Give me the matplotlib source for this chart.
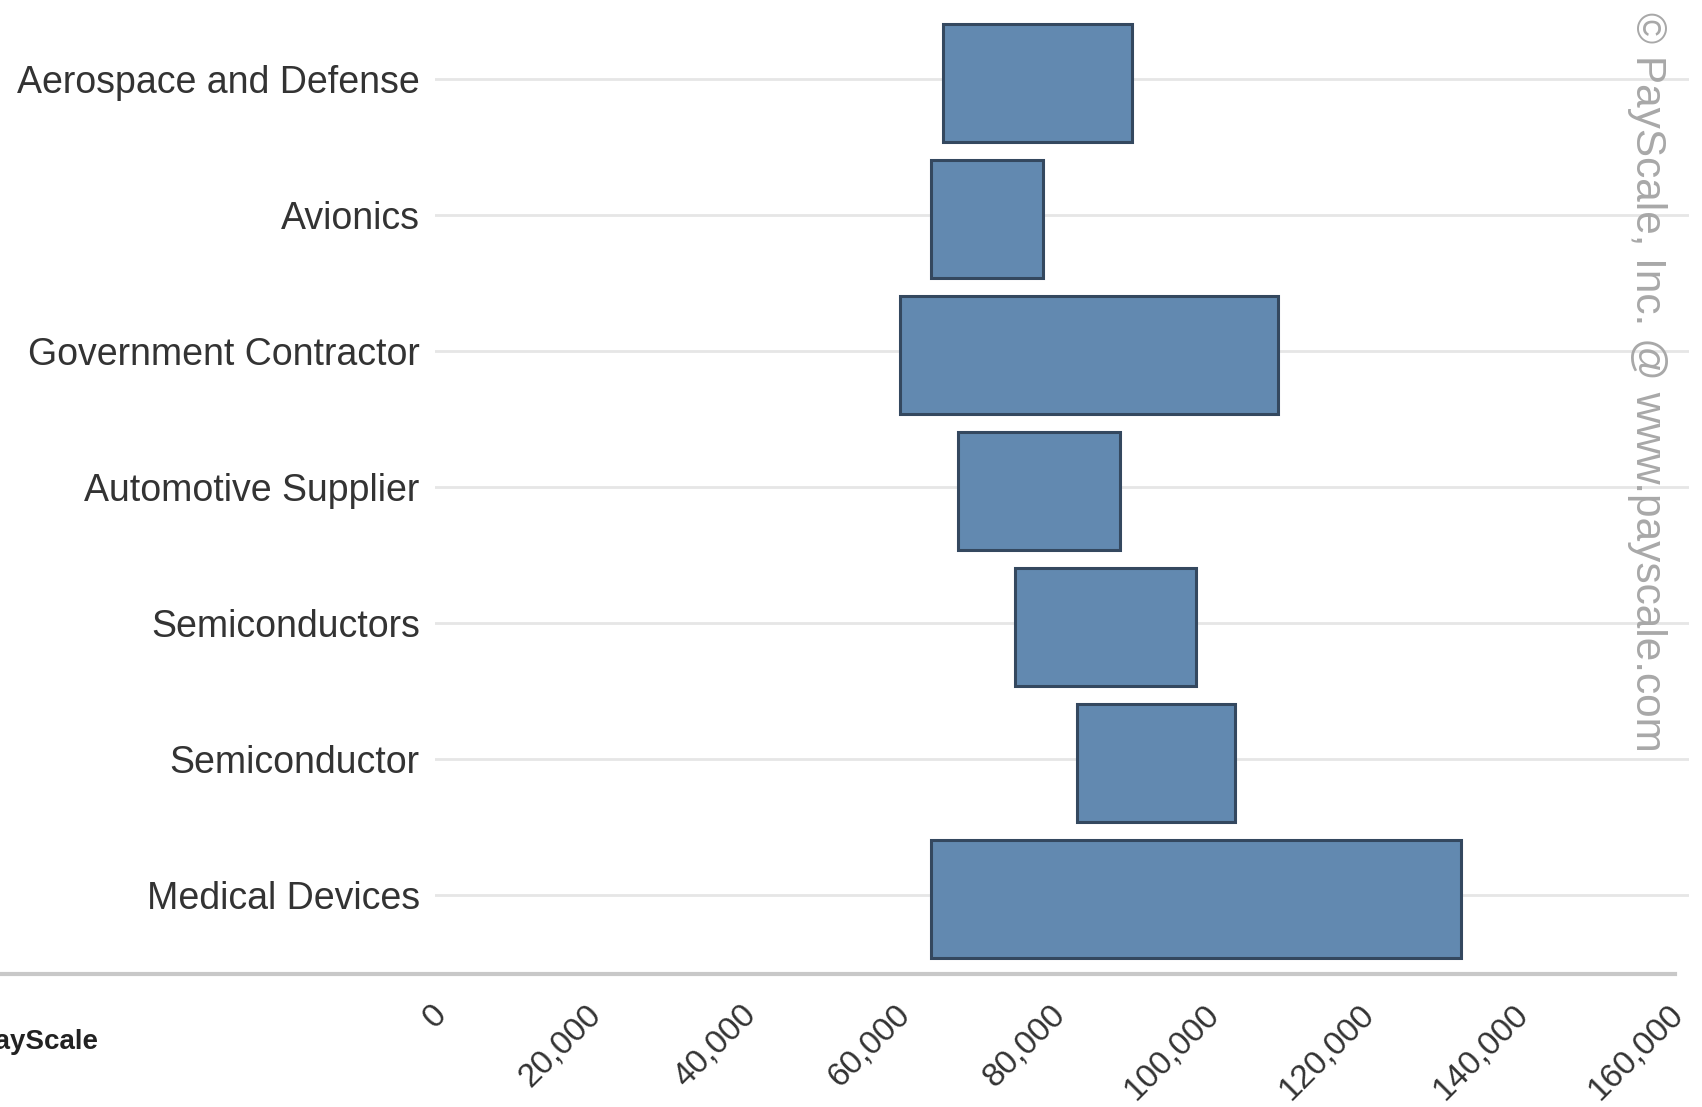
import matplotlib.pyplot as plt
from matplotlib.lines import Line2D

# Pay range by industry (low / high, USD)
industries = ["Aerospace and Defense", "Avionics", "Government Contractor",
              "Automotive Supplier", "Semiconductors", "Semiconductor",
              "Medical Devices"]
pay_low = [63400, 61900, 57900, 65400, 72800, 80800, 61900]
pay_high = [87900, 76400, 106800, 86400, 96200, 101200, 130500]
x_ticks = [0, 20000, 40000, 60000, 80000, 100000, 120000, 140000, 160000]

W, H = 1702, 1107
fig = plt.figure(figsize=(W / 100, H / 100), dpi=100)
fig.patch.set_facecolor("white")

left, right, bottom = 435 / W, 1689 / W, 1 - 974 / H
ax = fig.add_axes([left, bottom, right - left, 1 - bottom])

rows = list(range(len(industries)))
widths = [h - l for l, h in zip(pay_low, pay_high)]
# bars sit a touch below their grid line
ax.barh([r + 0.03 for r in rows], widths, left=pay_low, height=0.87,
        color="#6289b0", edgecolor="#34485f", linewidth=2.2, zorder=3)

ax.set_ylim(len(industries) - 0.42, -0.58)
ax.set_xlim(-2330, 160000)
ax.set_yticks(rows)
ax.set_yticklabels(industries, fontsize=27, color="#333333",
                   family="Liberation Sans")
ax.set_xticks(x_ticks)
ax.set_xticklabels([f"{v:,}" for v in x_ticks], rotation=45, ha="right",
                   va="top", fontsize=24, color="#333333",
                   family="Liberation Sans")
ax.tick_params(axis="y", length=0, pad=11)
ax.tick_params(axis="x", length=0, pad=18)

ax.grid(axis="y", color="#e6e6e6", linewidth=2, zorder=0)
ax.grid(axis="x", visible=False)
for s in ax.spines.values():
    s.set_visible(False)

# bottom axis line across the full width
fig.add_artist(Line2D([0, 1675 / W], [bottom, bottom], transform=fig.transFigure,
                      color="#c8c8c8", linewidth=3))

# watermark and logo
fig.text(1647 / W, 1 - 12 / H, "© PayScale, Inc. @ www.payscale.com",
         rotation=-90, ha="center", va="top", fontsize=30.5, color="#a8a8a8",
         family="Liberation Sans")
fig.text(98 / W, 1 - 1042 / H, "PayScale", ha="right", va="center",
         fontsize=20, fontweight="bold", color="#222222",
         family="Liberation Sans")

fig.savefig("out.png", dpi=100)
